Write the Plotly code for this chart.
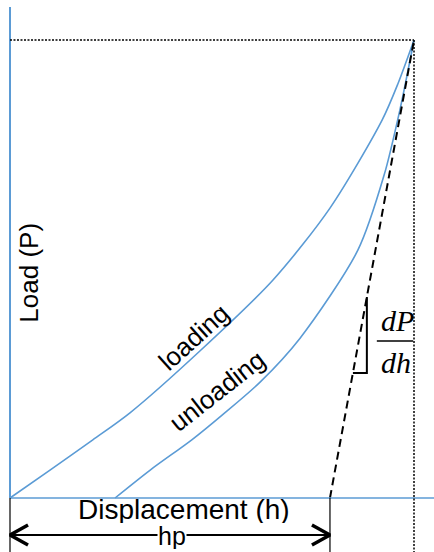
import plotly.graph_objects as go

# ---- data (normalised units: h / h_max, P / P_max) ----
load_h = [0.0, 0.099, 0.205, 0.297, 0.470, 0.651, 0.792, 0.921, 0.960, 1.0]
load_P = [0.0, 0.061, 0.127, 0.186, 0.321, 0.476, 0.633, 0.825, 0.904, 1.0]
unload_h = [0.260, 0.347, 0.450, 0.525, 0.619, 0.718, 0.861, 0.926, 0.965, 1.0]
unload_P = [0.0, 0.061, 0.127, 0.181, 0.253, 0.349, 0.541, 0.705, 0.847, 1.0]
h_max = 1.0
P_max = 1.0
hp = 0.792
tri_P = [0.273, 0.439]

labels = {
    "y": "Load (P)",
    "x": "Displacement (h)",
    "hp": "hp",
    "load": "loading",
    "unload": "unloading",
    "num": "dP",
    "den": "dh",
}

BLUE = "#5b9bd5"
X_RANGE = [-0.02475, 1.0495]
Y_RANGE = [-0.1179, 1.0873]

fig = go.Figure()

# curves
fig.add_trace(go.Scatter(x=load_h, y=load_P, mode="lines",
                         line=dict(color=BLUE, width=1.6, shape="spline", smoothing=0.8)))
fig.add_trace(go.Scatter(x=unload_h, y=unload_P, mode="lines",
                         line=dict(color=BLUE, width=1.6, shape="spline", smoothing=0.8)))

# tangent (stiffness) line
fig.add_trace(go.Scatter(x=[hp, h_max], y=[0, P_max], mode="lines",
                         line=dict(color="black", width=2, dash="8px,5px")))

# slope triangle
def tan_h(p):
    return hp + (h_max - hp) * p / P_max

fig.add_trace(go.Scatter(x=[tan_h(tri_P[1]), tan_h(tri_P[1]), tan_h(tri_P[0])],
                         y=[tri_P[1], tri_P[0], tri_P[0]], mode="lines",
                         line=dict(color="black", width=2)))

# dimension arrow for hp
ya = -0.0808
dx = 0.0446
dy = 0.0218
fig.add_trace(go.Scatter(x=[0, hp], y=[ya, ya], mode="lines",
                         line=dict(color="black", width=2)))
fig.add_trace(go.Scatter(x=[dx, 0, dx], y=[ya + dy, ya, ya - dy], mode="lines",
                         line=dict(color="black", width=3.5)))
fig.add_trace(go.Scatter(x=[hp - dx, hp, hp - dx], y=[ya + dy, ya, ya - dy], mode="lines",
                         line=dict(color="black", width=3.5)))

shapes = [
    # axes
    dict(type="line", xref="x", yref="y", x0=0, x1=0, y0=0, y1=1.072,
         line=dict(color=BLUE, width=2)),
    dict(type="line", xref="x", yref="y", x0=0, x1=X_RANGE[1], y0=0, y1=0,
         line=dict(color=BLUE, width=1.6)),
    # dotted guides
    dict(type="line", xref="x", yref="y", x0=0, x1=h_max, y0=P_max, y1=P_max,
         line=dict(color="black", width=1.5, dash="2px,1.5px")),
    dict(type="line", xref="x", yref="y", x0=h_max, x1=h_max, y0=P_max, y1=Y_RANGE[0],
         line=dict(color="black", width=1.5, dash="2px,1.5px")),
    # extension lines
    dict(type="line", xref="x", yref="y", x0=0, x1=0, y0=0, y1=Y_RANGE[0],
         line=dict(color="black", width=1.2)),
    dict(type="line", xref="x", yref="y", x0=hp, x1=hp, y0=0, y1=Y_RANGE[0],
         line=dict(color="black", width=1.2)),
    # fraction bar
    dict(type="line", xref="x", yref="y", x0=0.908, x1=0.998, y0=0.343, y1=0.343,
         line=dict(color="black", width=1.5)),
]

sans = "Liberation Sans, Arial, sans-serif"
serif = "Liberation Serif, Times New Roman, serif"
annotations = [
    dict(x=0.047, y=0.492, text=labels["y"], textangle=-90, showarrow=False,
         font=dict(family=sans, size=26, color="black")),
    dict(x=0.43, y=-0.025, text=labels["x"], showarrow=False, height=28,
         font=dict(family=sans, size=28, color="black")),
    dict(x=0.40, y=-0.084, text=labels["hp"], showarrow=False, bgcolor="white",
         borderpad=0, height=26, font=dict(family=sans, size=25, color="black")),
    dict(x=0.456, y=0.351, text=labels["load"], textangle=-42, showarrow=False,
         font=dict(family=sans, size=26, color="black")),
    dict(x=0.513, y=0.233, text=labels["unload"], textangle=-38, showarrow=False,
         font=dict(family=sans, size=26, color="black")),
    dict(x=0.958, y=0.388, text="<i>" + labels["num"] + "</i>", showarrow=False,
         font=dict(family=serif, size=30, color="black")),
    dict(x=0.955, y=0.295, text="<i>" + labels["den"] + "</i>", showarrow=False,
         font=dict(family=serif, size=30, color="black")),
]

fig.update_layout(
    width=434, height=552,
    margin=dict(l=0, r=0, t=0, b=0),
    paper_bgcolor="white", plot_bgcolor="white",
    showlegend=False,
    xaxis=dict(range=X_RANGE, visible=False, fixedrange=True),
    yaxis=dict(range=Y_RANGE, visible=False, fixedrange=True),
    shapes=shapes,
    annotations=annotations,
)

fig.write_html("out.html")
